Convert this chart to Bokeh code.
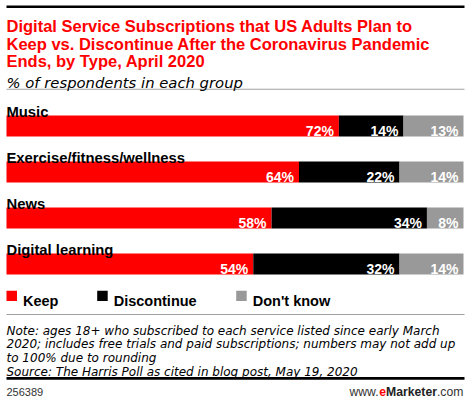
from bokeh.plotting import figure
from bokeh.models import Range1d, Label, ColumnDataSource
from bokeh.embed import file_html
from bokeh.resources import INLINE
from bokeh.core.properties import value

# ---- data ----
categories = ["Music", "Exercise/fitness/wellness", "News", "Digital learning"]
keep = [72, 64, 58, 54]
discontinue = [14, 22, 34, 32]
dont_know = [13, 14, 8, 14]
series_names = ["Keep", "Discontinue", "Don't know"]
colors = ["#ff0000", "#000000", "#999999"]

title_lines = ["Digital Service Subscriptions that US Adults Plan to",
               "Keep vs. Discontinue After the Coronavirus Pandemic",
               "Ends, by Type, April 2020"]
subtitle = "% of respondents in each group"
note_lines = ["Note: ages 18+ who subscribed to each service listed since early March",
              "2020; includes free trials and paid subscriptions; numbers may not add up",
              "to 100% due to rounding",
              "Source: The Harris Poll as cited in blog post, May 19, 2020"]
chart_id = "256389"

W, H = 470, 399
BAR_L, BAR_R = 6.0, 463.0          # pixel extent of a full (100%) bar
SCALE = (BAR_R - BAR_L) / 100.0     # pixels per percent


def X(px):
    """pixel column -> data x (percent) units"""
    return (px - BAR_L) / SCALE


p = figure(width=W, height=H, x_range=Range1d(X(0), X(W)), y_range=Range1d(H, 0),
           x_axis_type=None, y_axis_type=None, toolbar_location=None,
           output_backend="svg", min_border=0, title=None)
p.min_border_left = p.min_border_right = p.min_border_top = p.min_border_bottom = 0
p.grid.visible = False
p.outline_line_color = None
p.background_fill_color = "white"
p.border_fill_color = "white"

BOLD = "Liberation Sans"
ITAL = "DejaVu Sans"


def label(x, y, text, size, color="black", style="normal", align="left", font=BOLD):
    p.add_layout(Label(x=X(x), y=y, text=text, text_font=font,
                       text_font_size=f"{size}px", text_color=color,
                       text_font_style=style, text_align=align,
                       text_baseline="alphabetic"))


def hline(y0, y1, color):
    p.quad(left=[X(BAR_L)], right=[X(464)], top=[y0], bottom=[y1], color=color, line_width=0)


# header
hline(5, 7.6, "black")
for i, t in enumerate(title_lines):
    label(6, 25.5 + i * 17.5, t, 16.5, color="#ff0000", style="bold")
label(6, 81.5, subtitle, 14.8, style="italic", font=ITAL)
hline(88.3, 89.3, "#a0a0a0")

# bars
pitch = 46.0
first_center = 125.5
bar_h = 21
ys = [first_center + i * pitch for i in range(len(categories))]
totals = [k + d + n for k, d, n in zip(keep, discontinue, dont_know)]
series = [keep, discontinue, dont_know]
left = [0.0] * len(categories)
for s_vals, col in zip(series, colors):
    shares = [v * 100.0 / t for v, t in zip(s_vals, totals)]
    right = [l + s for l, s in zip(left, shares)]
    src = ColumnDataSource(dict(y=ys, left=left, right=right,
                                lab=[f"{v}%" for v in s_vals],
                                tx=[r - 5.0 / SCALE for r in right],
                                ty=[y + 5 for y in ys]))
    p.hbar(y="y", left="left", right="right", height=bar_h, source=src,
           fill_color=col, line_color=None)
    p.text(x="tx", y="ty", text="lab", source=src, text_color="white",
           text_font=value(BOLD), text_font_style="bold", text_font_size="14px",
           text_align="right", text_baseline="alphabetic")
    left = right

for c, y in zip(categories, ys):
    label(6, y - 14.2, c, 14.8, style="bold")

# legend
leg_x = [6, 96.7, 235.7]
for name, col, lx in zip(series_names, colors, leg_x):
    p.quad(left=[X(lx)], right=[X(lx + 10.5)], top=[290.3], bottom=[300.5],
           color=col, line_width=0)
    label(lx + 16.5, 300.8, name, 14.5, style="bold")

# footer
hline(313.6, 314.6, "#a0a0a0")
for i, t in enumerate(note_lines):
    label(6, 330 + i * 13.9, t, 12.0, style="italic", font=ITAL)
hline(376.5, 379.3, "black")
label(6, 391, chart_id, 11, color="#333333", font=BOLD)
fs = 12.2
label(349, 391, "www.", fs, color="#333333")
label(378.8, 391, "e", fs, color="#ff0000", style="bold")
label(385.6, 391, "Marketer", fs, color="#222222", style="bold")
label(436.4, 391, ".com", fs, color="#333333")

open("out.html", "w").write(file_html(p, INLINE))
